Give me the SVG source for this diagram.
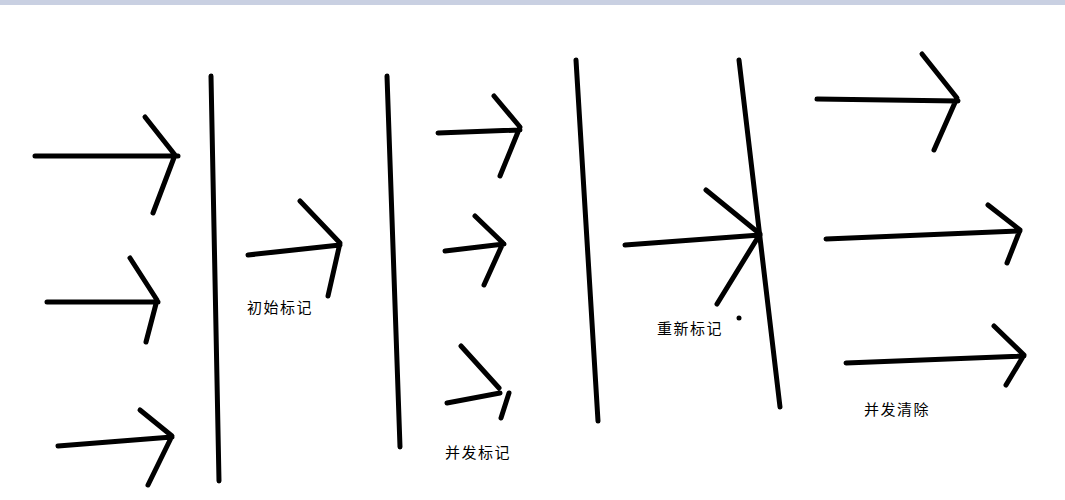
<svg xmlns="http://www.w3.org/2000/svg" width="1065" height="500" viewBox="0 0 1065 500">
<style>
.s{fill:none;stroke:#000;stroke-width:5;stroke-linecap:round;stroke-linejoin:round}
.t{font-family:"Noto Sans CJK SC","Noto Sans",sans-serif;font-size:15px;letter-spacing:1.5px;fill:#000}
</style>
<rect width="1065" height="500" fill="#fff"/>
<rect width="1065" height="5" fill="#c9d0e2"/>
<g id="connectors">
<path class="s" d="M35,156 L178,156 M145,117 L175,155 L153,213"/>
<path class="s" d="M47,302 L158,302 M130,258 L157,300 L146,342"/>
<path class="s" d="M58,446 L172,437 M140,410 L172,436 L148,485"/>
<path class="s" d="M248,255 L340,245 M300,201 L340,243 L328,296"/>
<path class="s" d="M438,133 L520,130 M494,96 L520,127 L500,176"/>
<path class="s" d="M445,251 L504,244 M475,216 L503,243 L484,285"/>
<path class="s" d="M447,403 L500,393 M461,346 L499,388 M509,393 L501,418"/>
<path class="s" d="M625,245 L760,235 M706,190 L760,234 L717,304"/>
<path class="s" d="M817,99 L958,101 M922,54 L957,98 L934,150"/>
<path class="s" d="M826,239 L1020,231 M988,205 L1020,230 L1007,263"/>
<path class="s" d="M846,363 L1024,356 M994,326 L1024,355 L1006,385"/>
</g>
<g id="barrier1"><path class="s" d="M211,76 L219,481"/></g>
<g id="barrier2"><path class="s" d="M387,76 L400,447"/></g>
<g id="barrier3"><path class="s" d="M576,60 L598,421"/></g>
<g id="barrier4"><path class="s" d="M739,60 L780,407"/></g>
<circle cx="739" cy="318" r="2.5" fill="#000"/>
<g id="label1"><text class="t" x="247" y="313">初始标记</text></g>
<g id="label2"><text class="t" x="445" y="458">并发标记</text></g>
<g id="label3"><text class="t" x="657" y="334">重新标记</text></g>
<g id="label4"><text class="t" x="864" y="415">并发清除</text></g>
</svg>
